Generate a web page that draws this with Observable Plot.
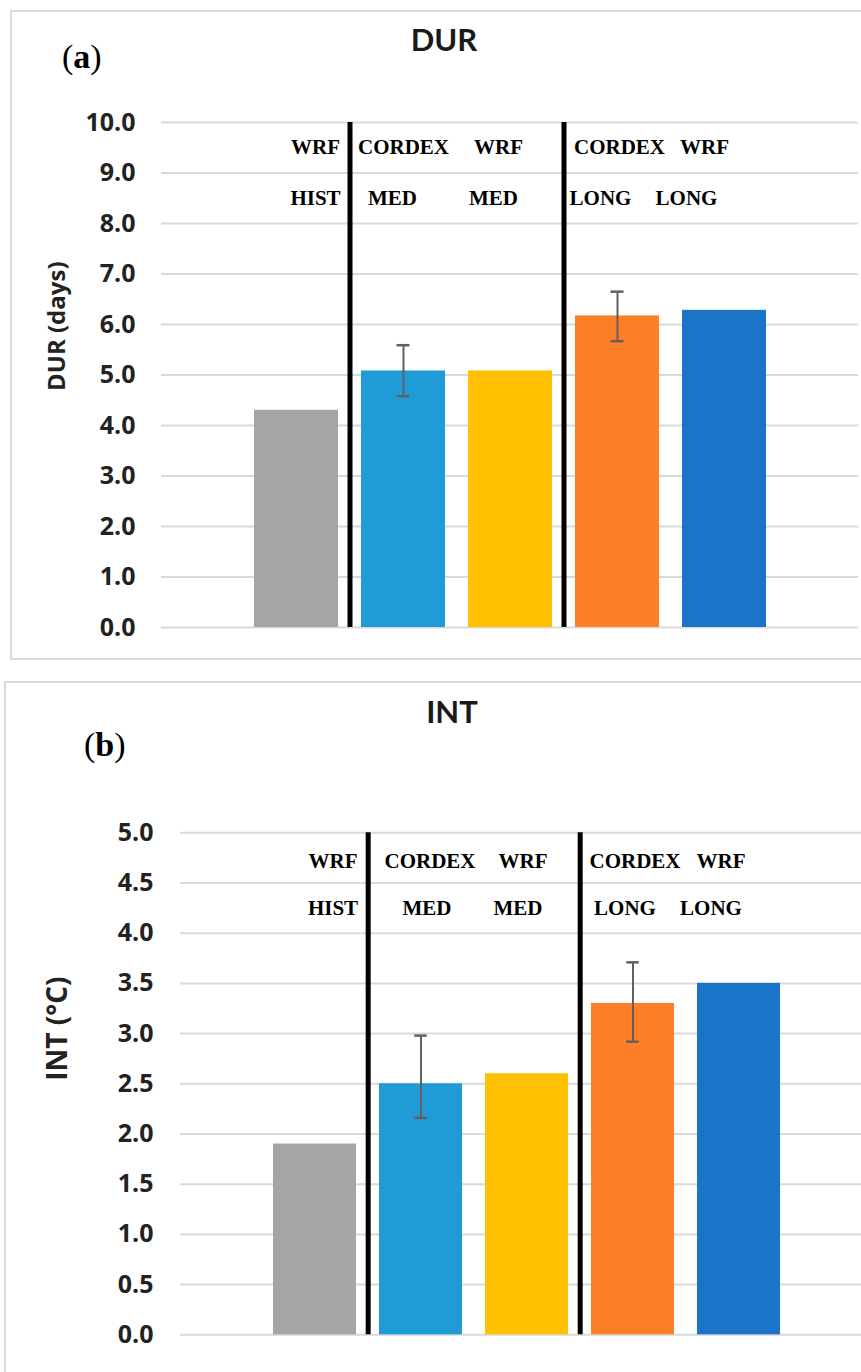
<!DOCTYPE html>
<html><head><meta charset="utf-8">
<script src="https://cdn.jsdelivr.net/npm/d3@7"></script>
<script src="https://cdn.jsdelivr.net/npm/@observablehq/plot@0.6"></script>
<style>
html,body{margin:0;padding:0;background:#fff;}
#page{position:relative;width:861px;height:1372px;overflow:hidden;background:#fff;}
.box{position:absolute;border:2px solid #d9d9d9;box-sizing:border-box;}
.title{position:absolute;font-family:Lato;font-weight:700;font-size:31px;line-height:31px;color:#1a1a1a;text-align:center;width:200px;}
.panel{position:absolute;font-family:"Liberation Serif";font-size:34px;line-height:34px;color:#000;white-space:nowrap;}
.chart{position:absolute;left:0;}
</style></head><body><div id="page">
<div class="box" style="left:10px;top:10px;width:880px;height:650px"></div>
<div class="box" style="left:4px;top:681px;width:900px;height:800px"></div>
<div class="panel" style="left:62px;top:40px">(<b>a</b>)</div>
<div class="title" style="left:344px;top:24px">DUR</div>
<div class="panel" style="left:84px;top:728px">(<b>b</b>)</div>
<div class="title" style="left:352px;top:696px">INT</div>
<div class="chart" id="chartA" style="top:100px"></div>
<div class="chart" id="chartB" style="top:800px"></div>
</div>
<script>
// ---- data ----
const categories = ["WRF HIST", "CORDEX MED", "WRF MED", "CORDEX LONG", "WRF LONG"];
const topLabels = ["WRF", "CORDEX", "WRF", "CORDEX", "WRF"];
const bottomLabels = ["HIST", "MED", "MED", "LONG", "LONG"];
const barColors = ["#A5A5A5", "#1F9BD7", "#FFC000", "#FF7F27", "#1A75C8"];

const durValues = [4.30, 5.08, 5.08, 6.17, 6.28];
const durErrLow = [null, 4.58, null, 5.67, null];
const durErrHigh = [null, 5.59, null, 6.65, null];

const intValues = [1.90, 2.50, 2.60, 3.30, 3.50];
const intErrLow = [null, 2.16, null, 2.92, null];
const intErrHigh = [null, 2.98, null, 3.71, null];

// ---- layout constants ----
const shiftA = {top: [19, 0, -12, 2, -20], bottom: [19, -11, -17, -17, -38]};
const shiftB = {top: [18, 9, -4, 2, -18], bottom: [18, 6, -9, -8, -28]};

function makeChart(o) {
  const rows = categories.map((c, i) => ({cat: c, value: o.values[i], lo: o.errLow[i], hi: o.errHigh[i]}));
  const errRows = rows.filter(r => r.lo != null);
  const pad = 0.215;
  const step = (o.xRange[1] - o.xRange[0]) / (categories.length - pad);
  const bw = step * (1 - pad);
  const capInset = (bw - 13) / 2;
  const labelMarks = [];
  categories.forEach((c, i) => {
    labelMarks.push(Plot.text([topLabels[i]], {x: () => c, y: () => o.rowY[0], text: d => d, dx: o.shift.top[i],
      fontFamily: "Liberation Serif", fontWeight: 700, fontSize: 21, fill: "#000"}));
    labelMarks.push(Plot.text([bottomLabels[i]], {x: () => c, y: () => o.rowY[1], text: d => d, dx: o.shift.bottom[i],
      fontFamily: "Liberation Serif", fontWeight: 700, fontSize: 21, fill: "#000"}));
  });
  return Plot.plot({
    width: 861,
    height: o.height,
    marginTop: o.mt, marginBottom: o.mb, marginLeft: o.ml, marginRight: o.mr,
    style: {background: "transparent", fontFamily: "'Open Sans'", fontSize: "25px", fontWeight: 700, color: "#222", overflow: "visible"},
    x: {domain: categories, range: o.xRange, paddingInner: pad, paddingOuter: 0, axis: null},
    y: {domain: [0, o.yMax], ticks: 10, tickFormat: d3.format(".1f"), tickSize: 0, tickPadding: o.tickPad, label: null},
    color: {domain: categories, range: barColors},
    marks: [
      Plot.ruleY(d3.range(0, o.yMax + 1e-9, o.yMax / 10), {stroke: "#d9d9d9", strokeWidth: 2}),
      Plot.barY(rows, {x: "cat", y: "value", fill: "cat"}),
      Plot.ruleX([categories[0], categories[2]], {y1: 0, y2: o.yMax, stroke: "#000", strokeWidth: 5, dx: step / 2}),
      Plot.ruleX(errRows, {x: "cat", y1: "lo", y2: "hi", stroke: "#606060", strokeWidth: 2}),
      Plot.tickY(errRows, {x: "cat", y: "lo", stroke: "#606060", strokeWidth: 2.5, insetLeft: capInset, insetRight: capInset}),
      Plot.tickY(errRows, {x: "cat", y: "hi", stroke: "#606060", strokeWidth: 2.5, insetLeft: capInset, insetRight: capInset}),
      ...labelMarks,
      Plot.text([o.yLabel], {frameAnchor: "left", rotate: -90, dx: o.labelDx, dy: o.labelDy,
        fontFamily: "'Open Sans'", fontWeight: 700, fontSize: o.yLabelSize, fill: "#222"})
    ]
  });
}

document.getElementById("chartA").append(makeChart({
  values: durValues, errLow: durErrLow, errHigh: durErrHigh, yMax: 10,
  height: 550, mt: 22, mb: 23, ml: 161, mr: 3, tickPad: 26,
  xRange: [254, 766], rowY: [9.5, 8.5], shift: shiftA,
  yLabel: "DUR (days)", yLabelSize: 24, labelDx: -104, labelDy: 16
}));
document.getElementById("chartB").append(makeChart({
  values: intValues, errLow: intErrLow, errHigh: intErrHigh, yMax: 5,
  height: 560, mt: 32.3, mb: 25.7, ml: 180, mr: 0, tickPad: 27,
  xRange: [272, 781], rowY: [4.72, 4.25], shift: shiftB,
  yLabel: "INT (°C)", yLabelSize: 28, labelDx: -122.5, labelDy: -3
}));
</script>
</body></html>
